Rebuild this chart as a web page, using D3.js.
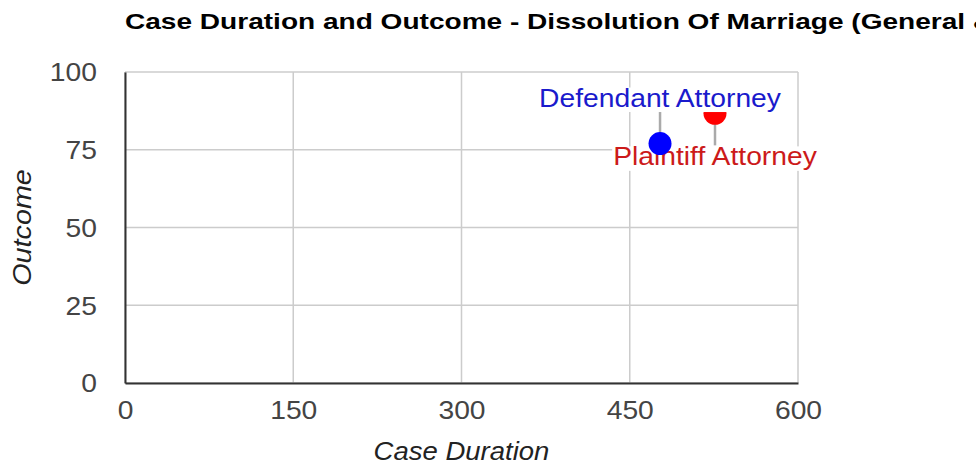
<!DOCTYPE html>
<html>
<head>
<meta charset="utf-8">
<script src="https://cdn.jsdelivr.net/npm/d3@7"></script>
<style>
  body { margin: 0; background: #fff; }
  svg { font-family: Arial, "Liberation Sans", sans-serif; }
</style>
</head>
<body>
<div class="chart-container"></div>
<script>
// data
var names = ["Defendant Attorney", "Plaintiff Attorney"];
var durations = [477, 526];
var outcomes = [77, 86.7];
var colors = ["#0000ff", "#ff0000"];
var labelColors = ["#1a1acc", "#cc1a1a"];
var xTicks = [0, 150, 300, 450, 600];
var yTicks = [0, 25, 50, 75, 100];

// set the dimensions and margins of the graph
var margin = {top: 72, right: 178, bottom: 86, left: 125},
    width = 976 - margin.left - margin.right,
    height = 469 - margin.top - margin.bottom;

var x = d3.scaleLinear().domain([0, 600]).range([0, width]);
var y = d3.scaleLinear().domain([0, 100]).range([height, 0]);

// the original text is a bit wider than Arial, so stretch it
function stretch(sel, k) {
  sel.each(function() {
    var w = this.getComputedTextLength();
    d3.select(this).attr("textLength", w * k).attr("lengthAdjust", "spacingAndGlyphs");
  });
}

var svg = d3.select(".chart-container").append("svg")
    .attr("width", 976)
    .attr("height", 469);

// title, runs off the right edge like the original
svg.append("text")
    .attr("x", 125).attr("y", 29)
    .attr("font-size", 22).attr("font-weight", "bold")
    .attr("fill", "#000")
    .text("Case Duration and Outcome - Dissolution Of Marriage (General & Other)")
    .call(stretch, 1.275);

var g = svg.append("g")
    .attr("transform", "translate(" + margin.left + "," + margin.top + ")");

// gridlines
g.selectAll(".vgrid").data(xTicks).enter().append("line")
    .attr("x1", function(d) { return x(d); }).attr("x2", function(d) { return x(d); })
    .attr("y1", 0).attr("y2", height)
    .attr("stroke", "#cccccc").attr("stroke-width", 1.5);
g.selectAll(".hgrid").data(yTicks).enter().append("line")
    .attr("x1", 0).attr("x2", width)
    .attr("y1", function(d) { return y(d); }).attr("y2", function(d) { return y(d); })
    .attr("stroke", "#cccccc").attr("stroke-width", 1.5);

// axes
var xAxis = g.append("g")
    .attr("transform", "translate(0," + height + ")")
    .call(d3.axisBottom(x).tickValues(xTicks).tickSize(0).tickPadding(18));
var yAxis = g.append("g")
    .call(d3.axisLeft(y).tickValues(yTicks).tickSize(0).tickPadding(28));
[xAxis, yAxis].forEach(function(a) {
  a.attr("font-size", null).attr("font-family", null);
  a.select(".domain").attr("stroke", "#333").attr("stroke-width", 2);
  a.selectAll("text").attr("font-size", 25).attr("fill", "#444");
});
yAxis.selectAll("text").attr("dy", "0.35em");
xAxis.selectAll("text").call(stretch, 1.13);
yAxis.selectAll("text").call(stretch, 1.13);

// axis titles
svg.append("text")
    .attr("x", margin.left + width / 2).attr("y", 460)
    .attr("text-anchor", "middle").attr("font-size", 25)
    .attr("font-style", "italic").attr("fill", "#222")
    .text("Case Duration")
    .call(stretch, 1.1);
svg.append("text")
    .attr("transform", "translate(31," + (margin.top + height / 2) + ") rotate(-90)")
    .attr("text-anchor", "middle").attr("font-size", 25)
    .attr("font-style", "italic").attr("fill", "#222")
    .text("Outcome")
    .call(stretch, 1.15);

// label offsets from the point (baseline), negative = above
var labOff = [-37, 52];
var lead = [-37, 32];

var below = g.append("g"), marks = g.append("g"), above = g.append("g");

// leader lines and points
marks.selectAll(".lead").data(names).enter().append("line")
    .attr("x1", function(d, i) { return x(durations[i]); })
    .attr("x2", function(d, i) { return x(durations[i]); })
    .attr("y1", function(d, i) { return y(outcomes[i]); })
    .attr("y2", function(d, i) { return y(outcomes[i]) + lead[i]; })
    .attr("stroke", "#aaaaaa").attr("stroke-width", 2.5);
marks.selectAll(".dot").data(names).enter().append("circle")
    .attr("cx", function(d, i) { return x(durations[i]); })
    .attr("cy", function(d, i) { return y(outcomes[i]); })
    .attr("r", 11.5)
    .attr("fill", function(d, i) { return colors[i]; });

// labels on a white box, above-labels go on top of the marks
names.forEach(function(d, i) {
  var layer = labOff[i] < 0 ? above : below;
  var lx = x(durations[i]), ly = y(outcomes[i]) + labOff[i];
  var box = layer.append("rect").attr("fill", "#fff");
  var t = layer.append("text")
      .attr("x", lx).attr("y", ly)
      .attr("text-anchor", "middle").attr("font-size", 25)
      .attr("fill", labelColors[i])
      .text(d)
      .call(stretch, 1.13);
  var w = +t.attr("textLength");
  box.attr("x", lx - w / 2 - 1).attr("y", ly - 19)
     .attr("width", w + 2).attr("height", 24.5);
});
</script>
</body>
</html>
